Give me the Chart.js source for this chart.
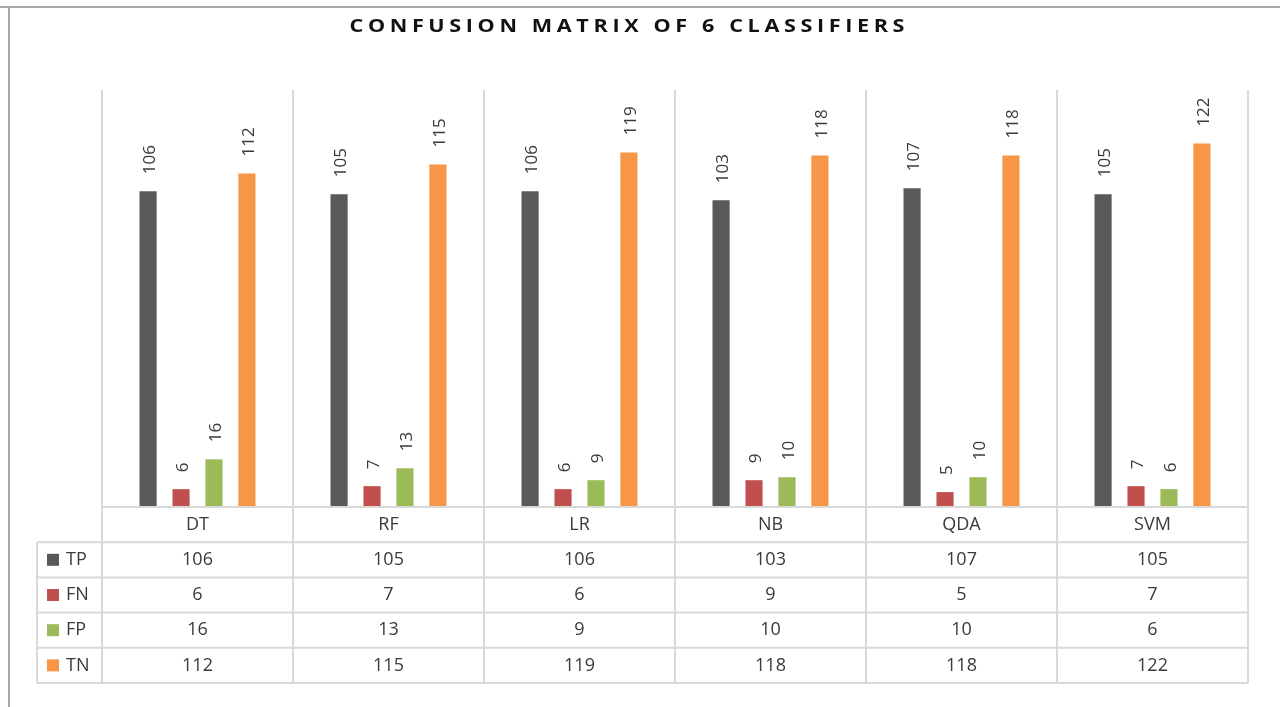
<!DOCTYPE html>
<html>
<head>
<meta charset="utf-8">
<title>Confusion matrix of 6 classifiers</title>
<script src="https://cdn.jsdelivr.net/npm/chart.js@4"></script>
<style>
  html, body { margin: 0; padding: 0; background: #fff; }
  #wrap { width: 1280px; height: 707px; }
</style>
</head>
<body>
<div id="wrap"><canvas id="cmChart" width="1280" height="707"></canvas></div>
<script>
// Data
const categories = ['DT', 'RF', 'LR', 'NB', 'QDA', 'SVM'];
const seriesNames = ['TP', 'FN', 'FP', 'TN'];
const tpValues = [106, 105, 106, 103, 107, 105];
const fnValues = [6, 7, 6, 9, 5, 7];
const fpValues = [16, 13, 9, 10, 10, 6];
const tnValues = [112, 115, 119, 118, 118, 122];
const seriesColors = ['#595959', '#c0504d', '#9bbb59', '#f79646'];

const chartTitle = 'CONFUSION MATRIX OF 6 CLASSIFIERS';
const textColor = '#3a3a3a';
const lineColor = '#d9d9d9';
const fontFamily = '"Open Sans", "Liberation Sans", sans-serif';

const allSeries = [tpValues, fnValues, fpValues, tnValues];

// draws title, frame, value labels and the data table under the bars
const tablePlugin = {
  id: 'tablePlugin',
  afterDraw(chart) {
    const ctx = chart.ctx;
    const area = chart.chartArea;
    const xs = chart.scales.x;
    const colW = (area.right - area.left) / categories.length;
    const rowH = 35.2;
    const legendLeft = 37;

    ctx.save();

    // frame
    ctx.strokeStyle = '#a6a6a6';
    ctx.lineWidth = 2;
    ctx.beginPath();
    ctx.moveTo(0, 7);
    ctx.lineTo(1280, 7);
    ctx.moveTo(9, 7);
    ctx.lineTo(9, 707);
    ctx.stroke();

    // title (stretched a little, wide spaced caps)
    const stretch = 1.2;
    const titleW = 555;
    ctx.save();
    ctx.fillStyle = '#111';
    ctx.font = 'bold 18px ' + fontFamily;
    ctx.textBaseline = 'middle';
    ctx.textAlign = 'left';
    const plainW = ctx.measureText(chartTitle).width * stretch;
    const spacing = Math.max(0, (titleW - plainW) / (chartTitle.length - 1)) / stretch;
    ctx.letterSpacing = spacing + 'px';
    ctx.translate(627 - titleW / 2, 27);
    ctx.scale(stretch, 1);
    ctx.fillText(chartTitle, 0, 0);
    ctx.restore();

    // value labels, rotated
    ctx.font = '17px ' + fontFamily;
    ctx.fillStyle = textColor;
    chart.data.datasets.forEach((ds, i) => {
      const meta = chart.getDatasetMeta(i);
      meta.data.forEach((bar, j) => {
        ctx.save();
        ctx.translate(bar.x + 2, bar.y - 17);
        ctx.rotate(-Math.PI / 2);
        ctx.textAlign = 'left';
        ctx.textBaseline = 'middle';
        ctx.fillText(String(ds.data[j]), 0, 0);
        ctx.restore();
      });
    });

    // table grid
    const top = area.bottom;
    const bottom = top + rowH * 5;
    ctx.strokeStyle = lineColor;
    ctx.lineWidth = 2;
    ctx.beginPath();
    ctx.moveTo(area.left, top);
    ctx.lineTo(area.right, top);
    for (let r = 1; r <= 5; r++) {
      ctx.moveTo(legendLeft, top + rowH * r);
      ctx.lineTo(area.right, top + rowH * r);
    }
    for (let c = 0; c <= categories.length; c++) {
      const x = area.left + colW * c;
      ctx.moveTo(x, top);
      ctx.lineTo(x, bottom);
    }
    ctx.moveTo(legendLeft, top + rowH);
    ctx.lineTo(legendLeft, bottom);
    ctx.stroke();

    // table text
    ctx.font = '18px ' + fontFamily;
    ctx.fillStyle = textColor;
    ctx.textAlign = 'center';
    ctx.textBaseline = 'middle';
    categories.forEach((cat, j) => {
      const cx = xs.getPixelForValue(j);
      ctx.fillText(cat, cx, top + rowH * 0.5);
      allSeries.forEach((vals, i) => {
        ctx.fillText(String(vals[j]), cx, top + rowH * (i + 1.5));
      });
    });

    // legend keys
    seriesNames.forEach((name, i) => {
      const cy = top + rowH * (i + 1.5);
      ctx.fillStyle = seriesColors[i];
      ctx.fillRect(47, cy - 6, 12, 12);
      ctx.fillStyle = textColor;
      ctx.textAlign = 'left';
      ctx.fillText(name, 66, cy);
    });

    ctx.restore();
  }
};

const ctx = document.getElementById('cmChart').getContext('2d');

new Chart(ctx, {
  type: 'bar',
  data: {
    labels: categories,
    datasets: seriesNames.map((name, i) => ({
      label: name,
      data: allSeries[i],
      backgroundColor: seriesColors[i],
      categoryPercentage: 0.69,
      barPercentage: 0.52
    }))
  },
  options: {
    responsive: false,
    animation: false,
    devicePixelRatio: 1,
    layout: {
      padding: { left: 102, right: 32, top: 90, bottom: 200 }
    },
    plugins: {
      legend: { display: false },
      title: { display: false },
      tooltip: { enabled: false }
    },
    scales: {
      x: {
        offset: true,
        ticks: { display: false },
        border: { display: false },
        grid: { color: lineColor, lineWidth: 2, drawTicks: false, offset: true },
        afterFit(scale) { scale.height = 0; }
      },
      y: {
        display: false,
        min: 0,
        max: 140
      }
    }
  },
  plugins: [tablePlugin]
});
</script>
</body>
</html>
